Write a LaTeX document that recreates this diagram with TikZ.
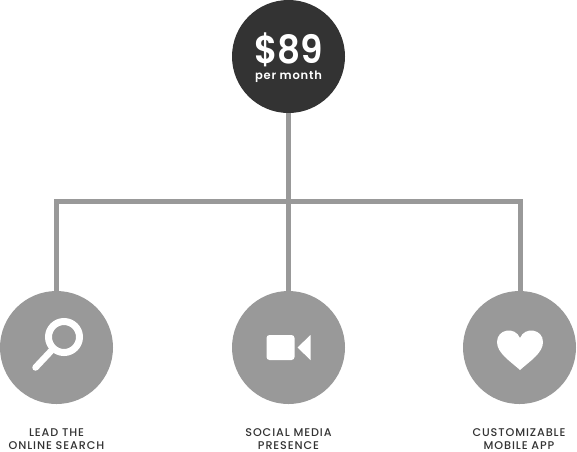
\documentclass[tikz,border=0pt]{standalone}
\usepackage{fontspec}
\setmainfont{Poppins}
\newfontfamily\labfont[LetterSpace=8]{Poppins Medium}
\newfontfamily\perfont[LetterSpace=7]{Poppins SemiBold}
\newfontfamily\pricefont[FakeStretch=0.92]{Poppins SemiBold}
\definecolor{darkc}{HTML}{333333}
\definecolor{greyc}{HTML}{999999}
\definecolor{labc}{HTML}{333333}
\tikzset{
  x=1pt,y=-1pt,
  hub/.style={circle,fill=darkc,minimum size=113pt,inner sep=0pt,outer sep=0pt},
  leaf/.style={circle,fill=greyc,minimum size=113pt,inner sep=0pt,outer sep=0pt},
  link/.style={draw=greyc,line width=5pt,line join=miter},
  labeltext/.style={font=\labfont\fontsize{11.2}{13.5}\selectfont,text=labc,align=center,inner sep=0pt,anchor=base},
  icon/.style={fill=white,draw=none}
}
\begin{document}
\begin{tikzpicture}
\useasboundingbox (0,0) rectangle (577,451);
\coordinate (bus) at (288.5,201.5);
\coordinate (busl) at (56.5,201.5);
\coordinate (busr) at (520,201.5);
\node[leaf] (a) at (56.5,347.5) {};
\node[leaf] (b) at (288.5,347.5) {};
\node[leaf] (c) at (519.5,347.5) {};
\node[hub] (top) at (288.5,56.5) {};
\draw[link] (top.south) -- (bus) -- (b.north);
\draw[link] (a.north -| busl) -- (busl) -- (busr) -- (c.north -| busr);
% search icon
\draw[white,line width=7pt] (64,337) circle (15.5);
\draw[white,line width=6.5pt,line cap=round] (51,351) -- (35.5,367.5);
% video icon
\fill[icon,rounded corners=3pt] (266.5,335) rectangle (294.5,360);
\fill[icon] (297.5,347.5) -- (310.5,335) -- (310.5,360) -- cycle;
% heart icon
\fill[icon] (520,370) .. controls (510,361) and (497,353) .. (497,342)
  .. controls (497,329) and (515,326) .. (520,338)
  .. controls (525,326) and (543,329) .. (543,342)
  .. controls (543,353) and (530,361) .. (520,370) -- cycle;
% texts
\node[anchor=base,text=white,inner sep=0pt,font=\pricefont\fontsize{39}{39}\selectfont] (price) at (288.5,63) {\$89};
\node[anchor=base,text=white,inner sep=0pt,font=\perfont\fontsize{11.5}{12}\selectfont] (per) at (288.5,79) {per month};
\node[labeltext] (la1) at (56.5,436.5) {LEAD THE};
\node[labeltext] (la2) at (56.5,449.5) {ONLINE SEARCH};
\node[labeltext] (lb1) at (288.5,436.5) {SOCIAL MEDIA};
\node[labeltext] (lb2) at (288.5,449.5) {PRESENCE};
\node[labeltext] (lc1) at (519,436.5) {CUSTOMIZABLE};
\node[labeltext] (lc2) at (519,449.5) {MOBILE APP};
\end{tikzpicture}
\end{document}
